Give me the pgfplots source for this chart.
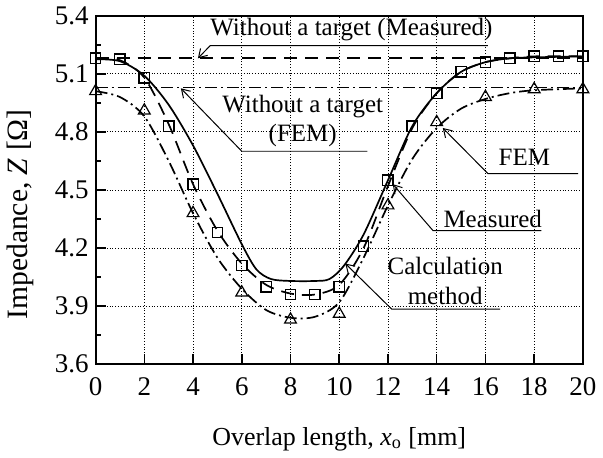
\documentclass[border=0pt]{standalone}
\usepackage{fontspec}
\setmainfont{Liberation Serif}
\usepackage{pgfplots}
\pgfplotsset{compat=1.18}
\usetikzlibrary{arrows.meta}

\begin{document}
\begin{tikzpicture}
\begin{axis}[
  scale only axis, width=244pt, height=174.5pt,
  xmin=0, xmax=20, ymin=3.6, ymax=5.4,
  xtick={0,2,4,6,8,10,12,14,16,18,20},
  ytick={3.6,3.9,4.2,4.5,4.8,5.1,5.4},
  minor y tick num=1,
  grid=major, major grid style={densely dotted, black, line width=0.4pt},
  tick pos=left, tick align=inside,
  major tick length=5pt, minor tick length=2.5pt,
  tick style={black, line width=0.8pt},
  axis line style={line width=1pt},
  /pgf/number format/assume math mode=true,
  ticklabel style={font=\fontsize{13.5}{15}\selectfont},
  yticklabel style={/pgf/number format/fixed, /pgf/number format/precision=1, /pgf/number format/fixed zerofill},
  xticklabel style={yshift=-3pt},
  xlabel={Overlap length, \textit{x}\textsubscript{o} [mm]},
  ylabel={Impedance, \textit{Z} [Ω]},
  xlabel style={font=\fontsize{13}{15}\selectfont, at={(axis description cs:0.5,-0.215)}, anchor=center},
  ylabel style={font=\fontsize{14.8}{16}\selectfont, at={(axis description cs:-0.155,0.43)}, anchor=center},
  every axis plot/.append style={black, line width=0.85pt},
  clip=false,
]
% without a target
\addplot[dash pattern=on 6.5pt off 4pt] coordinates {(0,5.18) (20,5.18)};
\addplot[dash pattern=on 6pt off 2pt on 1pt off 2pt] coordinates {(0,5.03) (20,5.03)};
% calculation method
\addplot[smooth, tension=0.5] coordinates {
 (0,5.175) (1,5.165) (2,5.09) (3,4.94) (4,4.73) (5,4.48) (6,4.22) (6.6,4.09) (7.2,4.04)
 (8,4.03) (9,4.03) (9.6,4.04) (10.2,4.11) (11,4.27) (12,4.55) (13,4.83) (14,5.0)
 (15,5.11) (16,5.16) (17,5.18) (18,5.185) (20,5.19)};
% measured curve
\addplot[smooth, tension=0.5, dash pattern=on 6.5pt off 4pt] coordinates {
 (0,5.18) (1,5.17) (2,5.08) (3,4.84) (4,4.53) (5,4.29) (6,4.12) (7,4.01) (8,3.965)
 (9,3.96) (10,4.01) (11,4.2) (12,4.52) (13,4.82) (14,5.0) (15,5.11) (16,5.16)
 (17,5.18) (18,5.19) (20,5.19)};
% FEM curve
\addplot[smooth, tension=0.5, dash pattern=on 6pt off 2pt on 1pt off 2pt] coordinates {
 (0,5.01) (1,4.98) (2,4.88) (3,4.65) (4,4.38) (5,4.15) (6,3.99) (7,3.88) (8,3.84)
 (9,3.845) (10,3.92) (11,4.15) (12,4.42) (13,4.66) (14,4.82) (15,4.92) (16,4.97)
 (17,5.0) (18,5.015) (20,5.025)};
% measured points
\addplot[only marks, mark=square, mark size=2.6pt, mark options={solid, line width=0.7pt}] coordinates {
 (0,5.18) (1,5.175) (2,5.08) (3,4.83) (4,4.53) (5,4.28) (6,4.11) (7,4.0) (8,3.96)
 (9,3.96) (10,4.0) (11,4.21) (12,4.55) (13,4.83) (14,5.0) (15,5.11) (16,5.16)
 (17,5.18) (18,5.19) (19,5.19) (20,5.19)};
% FEM points
\addplot[only marks, mark=triangle, mark size=3.4pt, mark options={solid, line width=0.6pt}] coordinates {
 (0,5.01) (2,4.91) (4,4.38) (6,3.97) (8,3.83) (10,3.86) (12,4.42) (14,4.85)
 (16,4.98) (18,5.02) (20,5.02)};
% annotations
\tikzset{lead/.style={line width=0.5pt, -{Straight Barb[length=4pt, width=5pt]}}}
\tikzset{ann/.style={font=\fontsize{12.5}{14}\selectfont, inner sep=0pt}}
\node[ann] at (axis cs:10.5,5.33) {Without a target (Measured)};
\draw[lead] (axis cs:16.1,5.245) -- (axis cs:4.7,5.245) -- (axis cs:4.2,5.18);
\node[ann] at (axis cs:8.5,4.93) {Without a target};
\node[ann] at (axis cs:8.5,4.78) {(FEM)};
\draw[lead] (axis cs:11.15,4.70) -- (axis cs:6.0,4.70) -- (axis cs:3.5,5.025);
\node[ann] at (axis cs:17.6,4.67) {FEM};
\draw[lead] (axis cs:19.8,4.585) -- (axis cs:16.1,4.585) -- (axis cs:14.25,4.82);
\node[ann] at (axis cs:16.3,4.35) {Measured};
\draw[lead] (axis cs:18.3,4.29) -- (axis cs:13.85,4.29) -- (axis cs:12.2,4.53);
\node[ann] at (axis cs:14.35,4.11) {Calculation};
\node[ann] at (axis cs:14.35,3.95) {method};
\draw[lead] (axis cs:16.6,3.885) -- (axis cs:12.15,3.885) -- (axis cs:10.25,4.12);
\end{axis}
\end{tikzpicture}
\end{document}
